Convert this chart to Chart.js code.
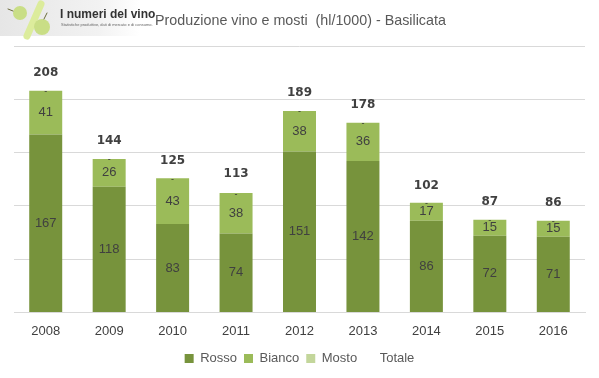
<!DOCTYPE html>
<html>
<head>
<meta charset="utf-8">
<script src="https://cdn.jsdelivr.net/npm/chart.js@4"></script>
<style>
  html, body { margin: 0; padding: 0; background: #fff; }
  #wrap { position: relative; width: 599px; height: 378px; }
</style>
</head>
<body>
<div id="wrap"><canvas id="chart" width="599" height="378"></canvas></div>
<script>
const anni = ['2008', '2009', '2010', '2011', '2012', '2013', '2014', '2015', '2016'];
const rosso = [167, 118, 83, 74, 151, 142, 86, 72, 71];
const bianco = [41, 26, 43, 38, 38, 36, 17, 15, 15];
const mosto = [0, 0, 0, 0, 0, 0, 0, 0, 0];
const totale = [208, 144, 125, 113, 189, 178, 102, 87, 86];

const testo = '#404040';

// intestazione: logo + titolo
const header = {
    id: 'header',
    beforeDraw(chart) {
        const c = chart.ctx;
        c.save();
        let g = c.createLinearGradient(0, 0, 140, 0);
        g.addColorStop(0, '#e6e6e6');
        g.addColorStop(0.7, '#f2f2f2');
        g.addColorStop(1, '#ffffff');
        c.fillStyle = g;
        c.fillRect(0, 0, 140, 36);
        // barra del "%"
        c.strokeStyle = '#dcec9c';
        c.lineWidth = 7;
        c.lineCap = 'round';
        c.beginPath();
        c.moveTo(41, 4);
        c.lineTo(27, 36);
        c.stroke();
        // acini
        c.fillStyle = '#c9de86';
        c.beginPath(); c.arc(20, 13, 7, 0, Math.PI * 2); c.fill();
        c.beginPath(); c.arc(42, 27, 8, 0, Math.PI * 2); c.fill();
        c.strokeStyle = '#6b6b3a';
        c.lineWidth = 1;
        c.beginPath(); c.moveTo(8, 9); c.lineTo(13, 11); c.stroke();
        c.beginPath(); c.moveTo(44, 19); c.lineTo(47, 13); c.stroke();
        c.fillStyle = '#333';
        c.font = 'bold 12px "Liberation Sans Narrow", "Liberation Sans", sans-serif';
        c.textBaseline = 'alphabetic';
        c.fillText('I numeri del vino', 60, 18);
        c.font = '4px "Liberation Sans", sans-serif';
        c.fillStyle = '#666';
        c.fillText('Statistiche produttive, dati di mercato e di consumo.', 61, 26);
        c.font = '14.3px "Liberation Sans", sans-serif';
        c.fillStyle = '#595959';
        c.fillText('Produzione vino e mosti  (hl/1000) - Basilicata', 155, 25);
        c.restore();
    }
};

// etichette dati
const etichette = {
    id: 'etichette',
    afterDatasetsDraw(chart) {
        const c = chart.ctx;
        c.save();
        c.textAlign = 'center';
        c.textBaseline = 'middle';
        chart.data.datasets.forEach((ds, i) => {
            const meta = chart.getDatasetMeta(i);
            meta.data.forEach((el, j) => {
                const v = ds.data[j];
                if (ds.label === 'Totale') {
                    c.font = 'bold 12px "DejaVu Sans", sans-serif';
                    c.fillStyle = testo;
                    c.fillText(v, el.x, el.y - 18);
                } else if (ds.label === 'Mosto') {
                    c.font = '9px "Liberation Sans", sans-serif';
                    c.fillStyle = '#333';
                    c.fillText('-', el.x, el.y + 1);
                } else {
                    const mid = (el.y + el.base) / 2;
                    c.font = '13px "Liberation Sans", sans-serif';
                    c.fillStyle = testo;
                    c.fillText(v, el.x, mid);
                }
            });
        });
        c.restore();
    }
};

new Chart(document.getElementById('chart'), {
    data: {
        labels: anni,
        datasets: [
            { type: 'bar', label: 'Rosso', data: rosso, backgroundColor: '#77933c', stack: 'p' },
            { type: 'bar', label: 'Bianco', data: bianco, backgroundColor: '#9bbb59', stack: 'p' },
            { type: 'bar', label: 'Mosto', data: mosto, backgroundColor: '#c3d69b', stack: 'p' },
            { type: 'line', label: 'Totale', data: totale, showLine: false, pointRadius: 0, stack: 't',
              backgroundColor: 'rgba(0,0,0,0)', borderColor: 'rgba(0,0,0,0)' }
        ]
    },
    options: {
        responsive: false,
        animation: false,
        barPercentage: 0.52,
        categoryPercentage: 1,
        layout: { padding: { left: 14, right: 14, top: 46, bottom: 3 } },
        scales: {
            x: {
                stacked: true,
                grid: { display: false },
                border: { color: '#d9d9d9', width: 1 },
                ticks: { color: testo, font: { size: 13, family: '"Liberation Sans", sans-serif' }, padding: 3 },
                afterFit(scale) { scale.height += 3; }
            },
            y: {
                stacked: true,
                min: 0,
                max: 250,
                ticks: { display: false, stepSize: 50 },
                grid: { color: '#d9d9d9', drawTicks: false },
                border: { display: false }
            }
        },
        plugins: {
            legend: {
                position: 'bottom',
                labels: {
                    boxWidth: 9,
                    boxHeight: 9,
                    padding: 7,
                    color: '#595959',
                    font: { size: 13, family: '"Liberation Sans", sans-serif' },
                    generateLabels(chart) {
                        return chart.data.datasets.map((ds, i) => ({
                            text: ds.label,
                            fillStyle: ds.label === 'Totale' ? 'rgba(0,0,0,0)' : ds.backgroundColor,
                            strokeStyle: 'rgba(0,0,0,0)',
                            lineWidth: 0,
                            fontColor: '#595959',
                            datasetIndex: i
                        }));
                    }
                }
            },
            tooltip: { enabled: false }
        }
    },
    plugins: [header, etichette]
});
</script>
</body>
</html>
